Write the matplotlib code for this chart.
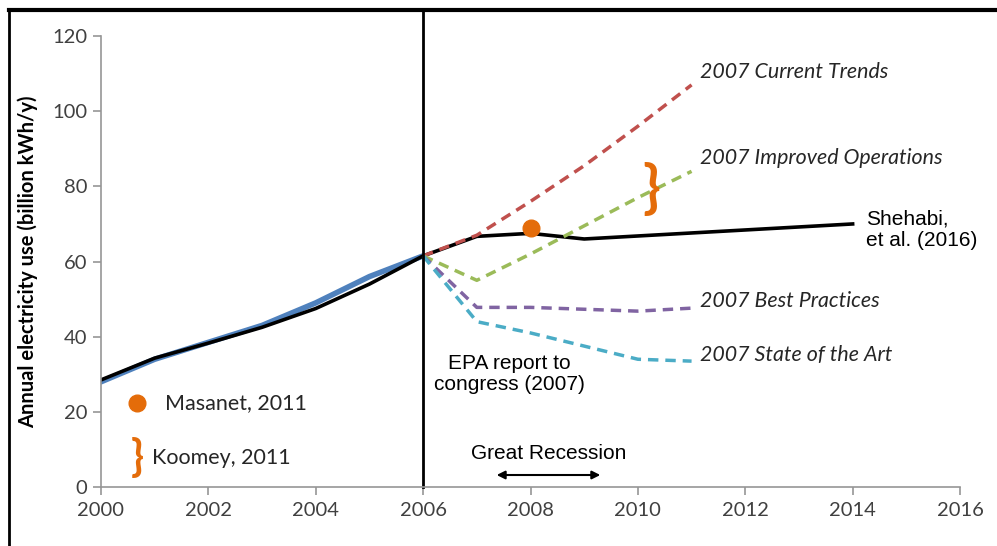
import matplotlib
matplotlib.use("Agg")
import matplotlib.pyplot as plt
from matplotlib.lines import Line2D

# données (milliards kWh/an)
annees_hist = [2000, 2001, 2002, 2003, 2004, 2005, 2006]
koomey_hist = [28.0, 34.0, 38.5, 43.0, 49.0, 56.0, 61.5]

annees_shehabi = [2000, 2001, 2002, 2003, 2004, 2005, 2006, 2007, 2008, 2009, 2014]
shehabi = [28.5, 34.3, 38.3, 42.5, 47.5, 54.0, 61.5, 66.7, 67.5, 66.0, 70.0]

annees_epa = [2006, 2007, 2008, 2009, 2010, 2011]
current_trends = [61.5, 67.0, 76.0, 85.5, 96.0, 107.0]
improved_ops = [61.5, 55.0, 62.0, 69.5, 77.0, 84.0]
best_practices = [61.5, 47.8, 47.8, 47.3, 46.8, 47.6]
state_of_art = [61.5, 44.0, 41.0, 37.5, 34.0, 33.5]

masanet_annee = 2008
masanet_val = 69.0
koomey_annee = 2010.24
koomey_val = 79.0

annee_rapport = 2006
recession = (2007.37, 2009.3)

x_ticks = list(range(2000, 2017, 2))
y_ticks = list(range(0, 121, 20))

police = ["Lato", "DejaVu Sans"]
police_arial = ["Liberation Sans", "DejaVu Sans"]
gris = "#404040"
orange = "#e46c0a"

fig = plt.figure(figsize=(9.97, 5.46), dpi=100)
ax = fig.add_axes([0.1013, 0.108, 0.8616, 0.826])

ax.plot(annees_hist, koomey_hist, color="#4f81bd", lw=4, solid_capstyle="round")
ax.plot(annees_shehabi, shehabi, color="black", lw=2.6)

ax.plot(annees_epa, current_trends, "--", color="#c0504d", lw=2.5, dashes=(3, 2))
ax.plot(annees_epa, improved_ops, "--", color="#9bbb59", lw=2.5, dashes=(3, 2))
ax.plot(annees_epa, best_practices, "--", color="#8064a2", lw=2.5, dashes=(3, 2))
ax.plot(annees_epa, state_of_art, "--", color="#4bacc6", lw=2.5, dashes=(3, 2))

ax.plot([masanet_annee], [masanet_val], "o", color=orange, ms=12)

# ligne verticale du rapport EPA jusqu'au cadre
ax.axvline(annee_rapport, ymin=0, ymax=1.055, color="black", lw=2, clip_on=False)

ax.set_xlim(2000, 2016)
ax.set_ylim(0, 120)
ax.set_xticks(x_ticks)
ax.set_yticks(y_ticks)
for s in ["top", "right"]:
    ax.spines[s].set_visible(False)
for s in ["left", "bottom"]:
    ax.spines[s].set_color("#969696")
    ax.spines[s].set_linewidth(1.2)
ax.tick_params(colors="#969696", length=6, width=1.2, labelcolor=gris, labelsize=14.5)
for lab in ax.get_xticklabels() + ax.get_yticklabels():
    lab.set_family(police)
ax.tick_params(axis="x", pad=5)
ax.tick_params(axis="y", pad=4)

ax.set_ylabel("Annual electricity use (billion kWh/y)", fontsize=14.5, fontweight="bold",
              family=police, color="black", labelpad=10)

# étiquettes des scénarios
txt = dict(fontsize=15.4, style="italic", family=police, color="#262626", va="center")
ax.text(2011.15, 110.5, "2007 Current Trends", **txt)
ax.text(2011.15, 87.5, "2007 Improved Operations", **txt)
ax.text(2011.15, 49.5, "2007 Best Practices", **txt)
ax.text(2011.15, 35.0, "2007 State of the Art", **txt)

ax.text(2014.25, 68.5, "Shehabi,\net al. (2016)", fontsize=15, family=police_arial,
        color="black", va="center", linespacing=1.15)
ax.text(2007.6, 30.0, "EPA report to\ncongress (2007)", fontsize=15, family=police_arial,
        color="black", va="center", ha="center", linespacing=1.15)
ax.text(2008.33, 9.0, "Great Recession", fontsize=15, family=police_arial,
        color="black", va="center", ha="center")
ax.annotate("", xy=(recession[0], 3.2), xytext=(recession[1], 3.2),
            arrowprops=dict(arrowstyle="<|-|>", color="black", lw=1.5, mutation_scale=12,
                            shrinkA=0, shrinkB=0))

# accolade Koomey
ax.text(koomey_annee, koomey_val, "}", fontsize=42, fontweight="bold", color=orange,
        family=police, va="center", ha="center")

# légende manuelle
ax.plot([2000.67], [22.3], "o", color=orange, ms=12, clip_on=False)
ax.text(2001.2, 22.3, "Masanet, 2011", fontsize=15.5, family=police, color="#262626", va="center")
ax.text(2000.67, 7.8, "}", fontsize=31, fontweight="bold", color=orange, family=police,
        va="center", ha="center")
ax.text(2000.95, 7.8, "Koomey, 2011", fontsize=15.5, family=police, color="#262626", va="center")

# cadre de l'image (haut et gauche)
fig.add_artist(Line2D([0.0095, 1.0], [0.982, 0.982], color="black", lw=3))
fig.add_artist(Line2D([0.0095, 0.0095], [0.0, 0.982], color="black", lw=2))

fig.savefig("out.png", dpi=100)
